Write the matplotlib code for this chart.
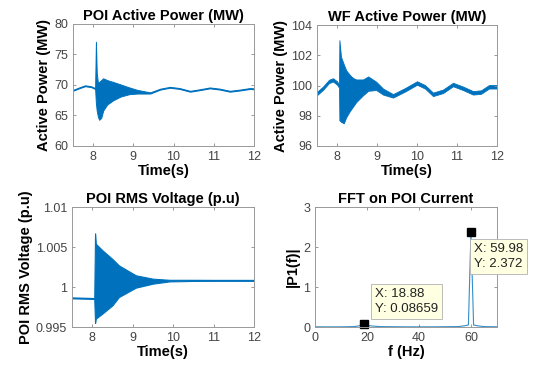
import numpy as np
from matplotlib import pyplot as plt

plt.rcParams['font.family'] = ['Liberation Sans', 'DejaVu Sans']

BLUE = '#0072BD'
GREY = '#444444'

# POI active power (MW): envelope of the signal
poi_t = [7.5, 7.65, 7.8, 7.95, 8.05, 8.07, 8.09, 8.12, 8.15, 8.2, 8.25, 8.35, 8.5, 8.68, 8.9, 9.1,
         9.25, 9.42, 9.67, 9.91, 10.15, 10.41, 10.65, 10.9, 11.15, 11.4, 11.65, 11.9, 12.0]
poi_hi = [69.2, 69.6, 69.95, 69.8, 69.5, 77.1, 72.0, 70.3, 70.5, 70.8, 71.1, 70.8, 70.5, 70.1, 69.6, 69.2,
          69.0, 68.8, 69.4, 69.7, 69.5, 69.05, 69.3, 69.6, 69.4, 69.05, 69.25, 69.5, 69.45]
poi_lo = [69.05, 69.45, 69.8, 69.65, 69.35, 67.0, 65.8, 64.8, 64.3, 64.6, 65.8, 66.8, 67.5, 68.1, 68.5, 68.6,
          68.6, 68.6, 69.25, 69.55, 69.35, 68.9, 69.15, 69.45, 69.25, 68.9, 69.1, 69.35, 69.3]

# WF active power (MW)
wf_t = [7.5, 7.65, 7.8, 7.9, 8.0, 8.05, 8.06, 8.1, 8.17, 8.23, 8.32, 8.4, 8.48, 8.65, 8.78, 8.98,
        9.15, 9.4, 9.7, 10.0, 10.2, 10.4, 10.65, 10.9, 11.15, 11.4, 11.6, 11.8, 12.0]
wf_hi = [99.58, 99.93, 100.38, 100.48, 100.28, 100.08, 103.0, 101.9, 101.4, 101.0, 100.7, 100.5, 100.4, 100.4,
         100.6, 100.25, 99.8, 99.43, 99.83, 100.28, 100.03, 99.53, 99.73, 100.18, 99.93, 99.63, 99.68, 100.03, 100.03]
wf_lo = [99.36, 99.71, 100.16, 100.26, 100.06, 99.86, 97.7, 97.6, 97.5, 97.9, 98.3, 98.6, 98.9, 99.35,
         99.65, 99.7, 99.4, 99.2, 99.6, 100.05, 99.8, 99.3, 99.5, 99.95, 99.7, 99.4, 99.45, 99.8, 99.8]

# POI RMS voltage (p.u)
v_t = [7.5, 7.8, 8.05, 8.07, 8.09, 8.25, 8.5, 8.66, 9.08, 9.5, 9.91, 10.5, 11.0, 11.5, 12.0]
v_hi = [0.99870, 0.99866, 0.99862, 1.0067, 1.0054, 1.0046, 1.0035, 1.0027, 1.00146, 1.00104,
        1.00090, 1.00090, 1.00089, 1.00089, 1.00089]
v_lo = [0.99858, 0.99854, 0.99850, 0.9955, 0.99605, 0.99667, 0.99771, 0.99875, 0.99992, 1.00042,
        1.00070, 1.00076, 1.00077, 1.00077, 1.00077]

# FFT on POI current
fft_f = [0, 5, 10, 15, 17, 18.88, 21, 25, 35, 45, 55, 57.5, 59.0, 59.98, 61.0, 62.5, 65, 70]
fft_p = [0.005, 0.003, 0.004, 0.01, 0.03, 0.08659, 0.03, 0.01, 0.004, 0.004, 0.01, 0.03, 0.05,
         2.372, 0.05, 0.03, 0.01, 0.005]
tips = [(18.88, 0.08659), (59.98, 2.372)]


def style(ax, title, xlabel, ylabel):
    ax.set_title(title, fontsize=10.5, fontweight='bold', pad=3)
    ax.set_xlabel(xlabel, fontsize=10.5, fontweight='bold', labelpad=1)
    ax.set_ylabel(ylabel, fontsize=10.5, fontweight='bold', labelpad=2)
    ax.tick_params(direction='in', length=2.5, width=0.6, colors='#888888',
                   labelcolor=GREY, labelsize=9, top=True, right=True)
    for s in ax.spines.values():
        s.set_color('#999999')
        s.set_linewidth(0.7)


fig = plt.figure(figsize=(5.35, 3.68), dpi=100)
W, H = 535, 368


def box(l, r, t, b):
    return [l / W, (H - b) / H, (r - l) / W, (b - t) / H]


ax1 = fig.add_axes(box(73, 254, 24, 146))
ax1.fill_between(poi_t, poi_lo, poi_hi, color=BLUE, lw=0.7)
ax1.set_xlim(7.5, 12)
ax1.set_ylim(60, 80)
ax1.set_xticks([8, 9, 10, 11, 12])
ax1.set_yticks([60, 65, 70, 75, 80])
style(ax1, 'POI Active Power (MW)', 'Time(s)', 'Active Power (MW)')

ax2 = fig.add_axes(box(317, 497, 25, 146))
ax2.fill_between(wf_t, wf_lo, wf_hi, color=BLUE, lw=0.6)
ax2.set_xlim(7.5, 12)
ax2.set_ylim(96, 104)
ax2.set_xticks([8, 9, 10, 11, 12])
ax2.set_yticks([96, 98, 100, 102, 104])
style(ax2, 'WF Active Power (MW)', 'Time(s)', 'Active Power (MW)')

ax3 = fig.add_axes(box(72, 254, 207, 327))
ax3.fill_between(v_t, v_lo, v_hi, color=BLUE, lw=0.8)
ax3.set_xlim(7.5, 12)
ax3.set_ylim(0.995, 1.01)
ax3.set_xticks([8, 9, 10, 11, 12])
ax3.set_yticks([0.995, 1.0, 1.005, 1.01])
ax3.set_yticklabels(['0.995', '1', '1.005', '1.01'])
style(ax3, 'POI RMS Voltage (p.u)', 'Time(s)', 'POI RMS Voltage (p.u)')

ax4 = fig.add_axes(box(315, 497, 207, 327))
ax4.plot(fft_f, fft_p, color=BLUE, lw=0.8, alpha=0.8)
for x, y in tips:
    ax4.plot(x, y, 's', color='black', ms=6, clip_on=False)
ax4.text(23.2, 0.63, 'X: 18.88\nY: 0.08659', fontsize=9.5, color='#222222', va='center', ha='left',
         linespacing=1.3, bbox=dict(boxstyle='square,pad=0.3', fc='#ffffe1', ec='#b0b0b0', lw=0.6))
ax4.text(61.0, 1.76, 'X: 59.98\nY: 2.372', fontsize=9.5, color='#222222', va='center', ha='left',
         linespacing=1.3, bbox=dict(boxstyle='square,pad=0.3', fc='#ffffe1', ec='#b0b0b0', lw=0.6))
ax4.set_xlim(0, 70)
ax4.set_ylim(0, 3)
ax4.set_xticks([0, 20, 40, 60])
ax4.set_yticks([0, 1, 2, 3])
style(ax4, 'FFT on POI Current', 'f (Hz)', '|P1(f)|')

fig.savefig('out.png', dpi=100)
